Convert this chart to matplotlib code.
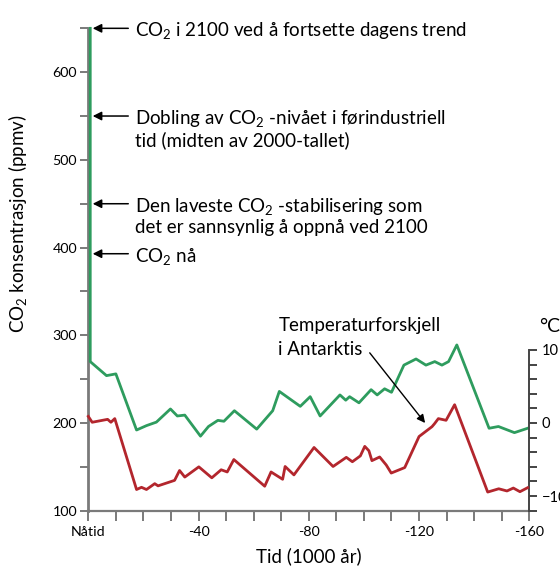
import matplotlib
matplotlib.use("Agg")
import matplotlib.pyplot as plt

plt.rcParams['font.family'] = ['Lato', 'DejaVu Sans']
plt.rcParams['mathtext.fontset'] = 'custom'
plt.rcParams['mathtext.rm'] = 'Lato'
plt.rcParams['mathtext.it'] = 'Lato:italic'

# CO2 (ppmv) from ice core, plus the modern jump at "now"
co2_time = [-0.7, -0.7, -6.6, -10.0, -17.5, -21.1, -24.7, -29.8, -32.3, -35.0, -40.7,
            -43.6, -47.0, -49.2, -53.0, -61.1, -66.9, -69.3, -76.9, -80.5, -84.1,
            -91.3, -93.4, -94.8, -98.2, -102.6, -104.8, -107.5, -110.0, -114.5,
            -118.9, -122.5, -125.7, -128.3, -130.7, -133.7, -145.4, -148.8, -154.6, -159.4]
co2_ppm = [650, 270, 254, 256, 192, 197, 201, 216, 208, 209, 185,
           196, 203, 202, 214, 193, 214, 236, 219, 230, 208,
           232, 226, 230, 223, 238, 232, 239, 235, 266,
           273, 266, 270, 266, 270, 289, 194, 196, 189, 194]

# temperature difference in Antarctica (deg C)
temp_time = [0.0, -1.4, -7.0, -8.2, -9.6, -17.5, -19.3, -21.1, -24.1, -25.3, -31.3,
             -33.1, -35.0, -40.1, -44.8, -48.2, -50.4, -52.8, -64.0, -66.3, -70.5,
             -71.4, -74.6, -81.9, -88.8, -93.6, -95.8, -98.7, -100.3, -101.8, -102.9,
             -105.7, -108.1, -109.9, -114.8, -120.0, -124.7, -125.6, -127.0, -129.8,
             -132.9, -144.9, -148.9, -151.9, -154.2, -156.6, -159.4]
temp_c = [0.9, 0.1, 0.5, 0.1, 0.6, -9.1, -8.8, -9.1, -8.3, -8.6, -7.85,
          -6.5, -7.4, -6.0, -7.5, -6.4, -6.7, -5.0, -8.65, -6.7, -7.7,
          -5.95, -7.1, -3.35, -5.95, -4.7, -5.3, -4.5, -3.2, -3.8, -5.15,
          -4.65, -5.75, -6.85, -6.1, -1.85, -0.5, -0.1, 0.6, 0.37,
          2.5, -9.45, -9.0, -9.3, -8.9, -9.4, -8.85]

notes = ['CO$_\\mathregular{2}$ i 2100 ved å fortsette dagens trend',
         'Dobling av CO$_\\mathregular{2}$ -nivået i førindustriell\ntid (midten av 2000-tallet)',
         'Den laveste CO$_\\mathregular{2}$ -stabilisering som\ndet er sannsynlig å oppnå ved 2100',
         'CO$_\\mathregular{2}$ nå']
note_ppm = [650, 550, 450, 393]

green = '#2e9c5e'
red = '#b3262d'
gray = '#7a7a7a'

fig = plt.figure(figsize=(5.6, 5.71), dpi=100)
ax = fig.add_axes([0.1577, 0.1056, 0.7875, 0.8448])
ax2 = ax.twinx()

ax.plot(co2_time, co2_ppm, color=green, lw=2.0, zorder=3, clip_on=False)
ax.set_xlim(0, -160)
ax.set_ylim(100, 650)
# right axis shares pixels: -12 C at 100 ppm, 0 C at 200 ppm
ax2.set_ylim(-12, 54)
ax2.plot(temp_time, temp_c, color=red, lw=2.0, zorder=3, clip_on=False)

for a in (ax, ax2):
    a.spines['top'].set_visible(False)
    a.patch.set_visible(False)
ax.spines['right'].set_visible(False)
ax2.spines['left'].set_visible(False)
ax2.spines['bottom'].set_visible(False)
ax.spines['left'].set_color(gray)
ax.spines['left'].set_linewidth(2)
ax.spines['bottom'].set_color(gray)
ax.spines['bottom'].set_linewidth(1.6)
ax2.spines['right'].set_color('#444444')
ax2.spines['right'].set_linewidth(1.4)
ax2.spines['right'].set_bounds(-12, 10)

ax.set_yticks([100, 200, 300, 400, 500, 600])
ax.set_yticks([150, 250, 350, 450, 550, 650], minor=True)
ax.set_xticks([0, -40, -80, -120, -160])
ax.set_xticklabels(['Nåtid', '-40', '-80', '-120', '-160'])
ax.set_xticks(range(-10, -160, -10), minor=True)
ax2.set_yticks([-10, 0, 10])
ax2.set_yticks(range(-12, 11, 2), minor=True)

ax.tick_params(axis='both', which='both', color=gray, width=1.4, labelsize=10.3)
ax.tick_params(axis='y', which='both', length=6, pad=2)
ax.tick_params(axis='x', which='both', length=7, pad=4)
ax2.tick_params(axis='y', which='both', color='#444444', width=1.4, length=6,
                labelsize=10.5, pad=3)

ax.set_ylabel('CO$_\\mathregular{2}$ konsentrasjon (ppmv)', fontsize=13.5)
ax.yaxis.set_label_coords(-0.134, 0.595)
ax.set_xlabel('Tid (1000 år)', fontsize=13.5, labelpad=7)

for txt, ppm in zip(notes, note_ppm):
    ax.annotate('', xy=(-1.6, ppm), xytext=(-14.5, ppm),
                arrowprops=dict(arrowstyle='-|>', color='black', lw=1.1,
                                mutation_scale=13, shrinkA=0, shrinkB=0),
                annotation_clip=False)
    for i, line in enumerate(txt.split('\n')):
        ax.annotate(line, xy=(-17.0, ppm), xytext=(0, -16.0 * i),
                    textcoords='offset points', fontsize=13.5,
                    ha='left', va='center_baseline', annotation_clip=False)

for i, line in enumerate(['Temperaturforskjell', 'i Antarktis']):
    ax2.annotate(line, xy=(-69.0, 13.6), xytext=(0, -17.3 * i),
                 textcoords='offset points', fontsize=13.5,
                 ha='left', va='center_baseline')
ax2.annotate('', xy=(-122.2, 0.0), xytext=(-102.1, 9.6),
             arrowprops=dict(arrowstyle='-|>', color='black', lw=1.0,
                             mutation_scale=12, shrinkA=0, shrinkB=0))
ax2.text(-163.5, 13.2, '°C', fontsize=14, ha='left', va='center', clip_on=False)

fig.savefig('out.png', dpi=100)
